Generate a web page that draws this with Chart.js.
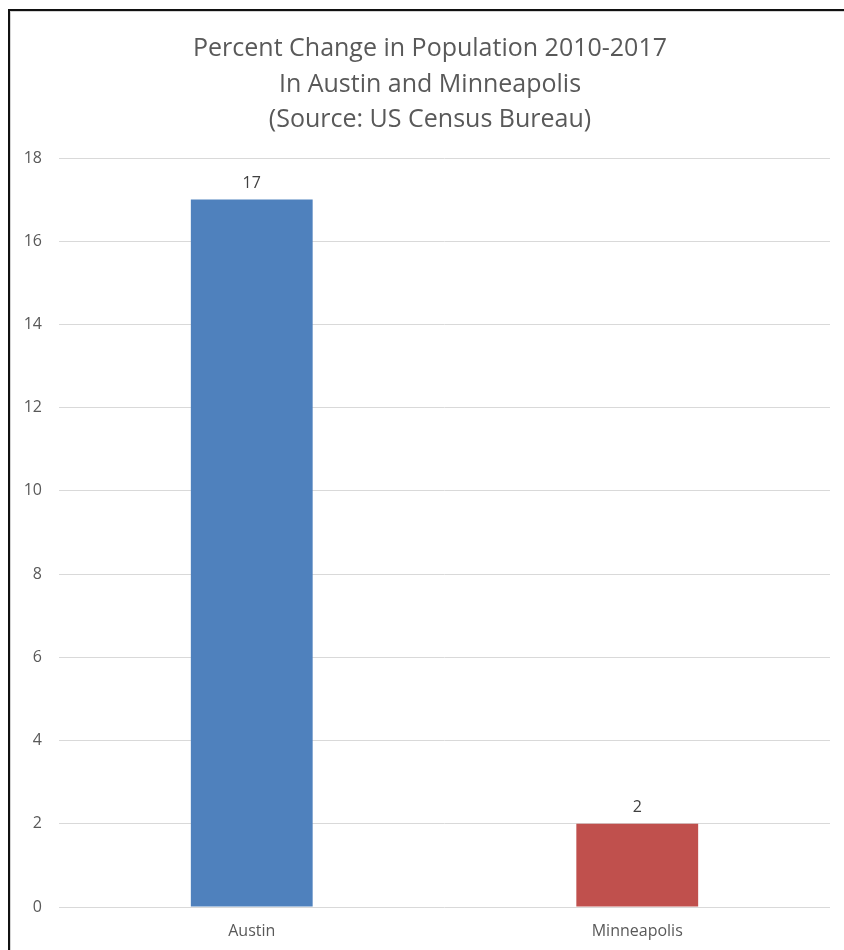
<!DOCTYPE html>
<html>
<head>
<meta charset="utf-8">
<script src="https://cdn.jsdelivr.net/npm/chart.js@4/dist/chart.umd.min.js"></script>
<style>
  html, body { margin: 0; padding: 0; background: #fff; overflow: hidden; }
  #frame {
    position: absolute; left: 8px; top: 9px; width: 900px; height: 1000px;
    border-left: 2px solid #111; border-top: 2px solid #111;
    box-shadow: inset 1px 1px 0 #d4d4d4;
  }
  #chart { position: absolute; left: 0; top: 0; }
</style>
</head>
<body>
<div id="frame"></div>
<canvas id="chart" width="844" height="950"></canvas>
<script>
// chart data
const cities = ["Austin", "Minneapolis"];
const pctChange = [17, 2];
const barColors = ["#4F81BD", "#C0504D"];
const titleLines = [
  "Percent Change in Population 2010-2017",
  "In Austin and Minneapolis",
  "(Source: US Census Bureau)"
];

const FONT = "'Open Sans', sans-serif";

// title is drawn by hand so it can sit centred on the whole frame,
// not just on the space right of the y axis
const frameTitle = {
  id: "frameTitle",
  afterDraw(chart) {
    const ctx = chart.ctx;
    ctx.save();
    ctx.font = "25px " + FONT;
    ctx.fillStyle = "#595959";
    ctx.textAlign = "center";
    ctx.textBaseline = "middle";
    titleLines.forEach((line, i) => {
      ctx.fillText(line, 430, 49 + i * 35.5);
    });
    ctx.restore();
  }
};

// draws the number above each bar
const valueLabels = {
  id: "valueLabels",
  afterDatasetsDraw(chart) {
    const ctx = chart.ctx;
    ctx.save();
    ctx.font = "16px " + FONT;
    ctx.fillStyle = "#404040";
    ctx.textAlign = "center";
    ctx.textBaseline = "middle";
    chart.getDatasetMeta(0).data.forEach((bar, i) => {
      ctx.fillText(String(pctChange[i]), bar.x, bar.y - 16);
    });
    ctx.restore();
  }
};

new Chart(document.getElementById("chart"), {
  type: "bar",
  data: {
    labels: cities,
    datasets: [
      {
        data: pctChange,
        backgroundColor: barColors,
        borderWidth: 0,
        barPercentage: 0.316,
        categoryPercentage: 1
      }
    ]
  },
  options: {
    responsive: false,
    animation: false,
    layout: { padding: { left: 10, right: 14, top: 158, bottom: 0 } },
    plugins: {
      legend: { display: false },
      tooltip: { enabled: false },
      title: { display: false }
    },
    scales: {
      x: {
        grid: { display: false, drawTicks: false },
        border: { display: false },
        ticks: { color: "#595959", font: { family: FONT, size: 16 }, padding: 15 },
        afterFit(scale) { scale.height = 43; }
      },
      y: {
        min: 0,
        max: 18,
        ticks: { stepSize: 2, color: "#595959", font: { family: FONT, size: 16 }, padding: 17 },
        grid: { color: "#d9d9d9", lineWidth: 1, drawTicks: false },
        border: { display: false },
        afterFit(scale) {
          scale.width = 49;
          scale.paddingTop = 0;
          scale.paddingBottom = 0;
        }
      }
    }
  },
  plugins: [valueLabels, frameTitle]
});
</script>
</body>
</html>
